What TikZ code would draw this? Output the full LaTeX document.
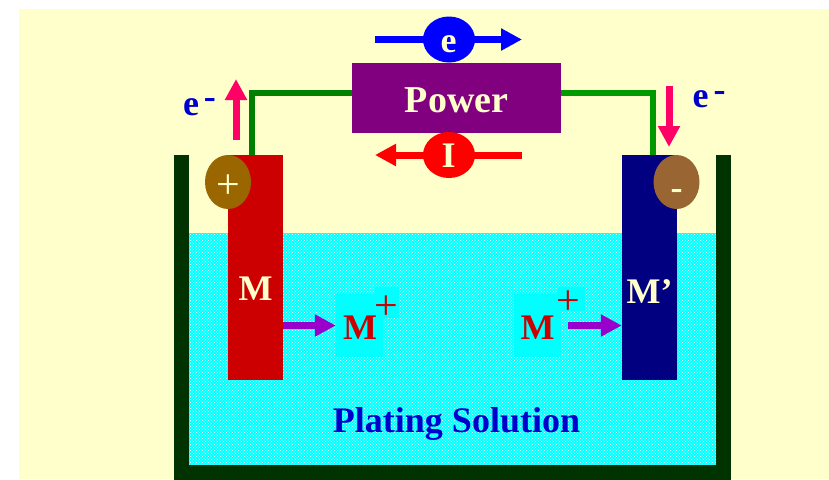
\documentclass[tikz,border=0pt]{standalone}
\usepackage{fontspec}
\setmainfont{Liberation Serif}
\usetikzlibrary{arrows.meta,patterns,shapes.geometric}
\definecolor{paper}{HTML}{FFFFCC}
\definecolor{tankgreen}{HTML}{003300}
\definecolor{bathcyan}{HTML}{00FFFF}
\definecolor{anodered}{HTML}{CC0000}
\definecolor{cathodeblue}{HTML}{000080}
\definecolor{powerpurple}{HTML}{800080}
\definecolor{textblue}{HTML}{0000CC}
\definecolor{pinkarrow}{HTML}{FF0066}
\definecolor{ionarrow}{HTML}{9900CC}
\definecolor{anodebrown}{HTML}{996600}
\definecolor{cathodebrown}{HTML}{996633}
\definecolor{wiredark}{HTML}{008000}
\definecolor{wirelight}{HTML}{009900}
\tikzset{
    bigtext/.style={font=\fontsize{36}{40}\selectfont\bfseries,anchor=base,inner sep=0pt},
    signtext/.style={font=\fontsize{42}{46}\selectfont,anchor=base,inner sep=0pt},
    electrode/.style={minimum width=55pt,minimum height=225pt,inner sep=0pt},
    badge/.style={ellipse,minimum width=46pt,minimum height=54pt,inner sep=0pt},
    flow/.style={ellipse,minimum width=52pt,minimum height=46pt,inner sep=0pt},
    patch/.style={fill=bathcyan,inner sep=0pt},
    fatarrow/.style={line width=7pt,-{Triangle[length=21pt,width=21pt]}},
    wire/.style={line width=6.5pt},
}
\begin{document}
\begin{tikzpicture}[x=1pt,y=-1pt]
    \useasboundingbox (0,0) rectangle (829,479);
    \fill[paper] (19,9) rectangle (829,479);
    % bath
    \fill[bathcyan] (189,233) rectangle (716,465);
    \fill[pattern=crosshatch dots,pattern color=white] (189,233) rectangle (716,465);
    \draw[tankgreen,line width=15pt] (181.5,155) -- (181.5,472) -- (723.5,472) -- (723.5,155);
    % ions background
    \node[patch,minimum width=47pt,minimum height=63pt] (patchL) at (359.5,325.5) {};
    \node[patch,minimum width=24pt,minimum height=31pt] (patchLp) at (387,302.5) {};
    \node[patch,minimum width=47pt,minimum height=63pt] (patchR) at (537.5,325.5) {};
    \node[patch,minimum width=27pt,minimum height=24pt] (patchRp) at (571.5,299) {};
    % electrodes
    \node[electrode,fill=anodered] (anode) at (255.5,267.5) {};
    \node[electrode,fill=cathodeblue] (cathode) at (649.5,267.5) {};
    \node[fill=powerpurple,minimum width=209pt,minimum height=70pt,inner sep=0pt] (power) at (456.5,98) {};
    % wires
    \coordinate (wireLa) at (352,93);
    \coordinate (wireLb) at (252,155);
    \coordinate (wireRa) at (561,93);
    \coordinate (wireRb) at (653,155);
    \draw[wire,wiredark] (wireLa) -| (wireLb);
    \draw[wire,wirelight] (wireRa) -| (wireRb);
    % flow arrows
    \coordinate (eL) at (375,39.5);
    \coordinate (eR) at (522,39.5);
    \coordinate (iR) at (522,155);
    \coordinate (iL) at (375,155);
    \draw[fatarrow,blue] (eL) -- (eR);
    \draw[fatarrow,red] (iR) -- (iL);
    \node[flow,fill=blue] (ecirc) at (449,39.5) {};
    \node[flow,fill=red] (icirc) at (449,155) {};
    \node[bigtext,text=paper] (elabel) at (448.5,52) {e};
    \node[bigtext,text=paper] (ilabel) at (448.5,167) {I};
    % electron arrows
    \coordinate (upA) at (236,140);
    \coordinate (upB) at (236,79);
    \coordinate (downA) at (669,86);
    \coordinate (downB) at (669,147);
    \draw[fatarrow,pinkarrow] (upA) -- (upB);
    \draw[fatarrow,pinkarrow] (downA) -- (downB);
    \node[bigtext,text=textblue] (eminusL) at (199.5,115.5) {e\hspace{5pt}\raisebox{7pt}{-}};
    \node[bigtext,text=textblue] (eminusR) at (709,107) {e\hspace{5pt}\raisebox{6pt}{-}};
    % terminals
    \node[badge,fill=anodebrown] (plus) at (228,182) {};
    \node[badge,fill=cathodebrown] (minus) at (676.5,182) {};
    \node[signtext,text=paper] (plussign) at (228,198.5) {+};
    \node[bigtext,text=paper] (minussign) at (676.5,199) {-};
    % labels
    \node[bigtext,text=paper,font=\fontsize{38}{42}\selectfont\bfseries] (powerlabel) at (456.5,112.5) {Power};
    \node[bigtext,text=paper] (mlabel) at (255.5,300) {M};
    \node[bigtext,text=paper] (mplabel) at (649.5,303) {M’};
    \node[bigtext,text=anodered] (ionL) at (360,339) {M};
    \node[bigtext,text=anodered] (ionR) at (537.5,339) {M};
    \node[signtext,text=anodered] (ionLp) at (386.5,319) {+};
    \node[signtext,text=anodered] (ionRp) at (568,314) {+};
    \node[bigtext,text=textblue] (bath) at (456.5,432) {Plating Solution};
    % ion arrows
    \draw[fatarrow,ionarrow] (anode.east |- patchL) -- (patchL.west);
    \coordinate (ionstart) at (568,325.5);
    \draw[fatarrow,ionarrow] (ionstart) -- (cathode.west |- ionstart);
\end{tikzpicture}
\end{document}
